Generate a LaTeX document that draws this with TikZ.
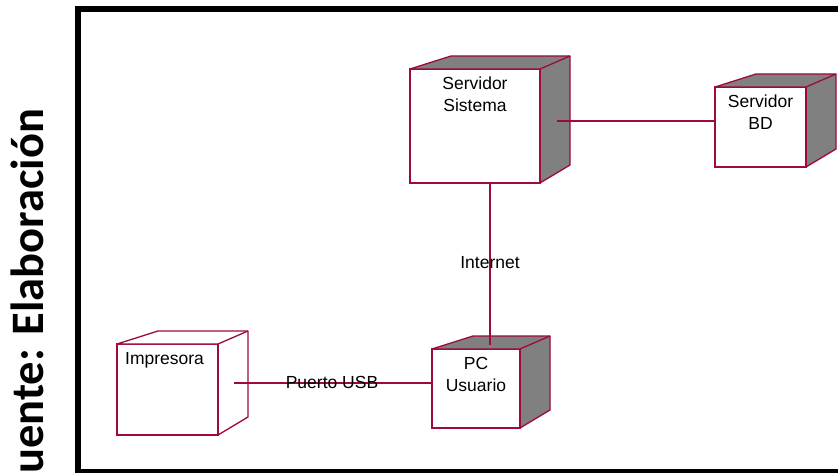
\documentclass[tikz,border=0pt]{standalone}
\usepackage{fontspec}
\setmainfont{Liberation Sans}
\newfontfamily\calibri{Carlito}
\usetikzlibrary{positioning}
\definecolor{borde}{HTML}{9E0B3A}
\definecolor{gris}{HTML}{808080}
\tikzset{
	cara/.style={draw=borde, line width=1.3pt, fill=white, inner sep=0pt, outer sep=0pt},
	enlace/.style={draw=borde, line width=1.3pt},
	etiqueta/.style={inner sep=0pt, align=center, font=\fontsize{17.5}{22}\selectfont},
}
\newcommand{\caja}[2]{%
	\filldraw[draw=borde, line width=1.3pt, fill=#2, line join=round] (#1.north west) -- ++(41,-13) -- ([shift={(30,-13)}]#1.north east) -- ([shift={(30,-18)}]#1.south east) -- (#1.south east) -- (#1.north east) -- cycle;
	\draw[borde, line width=1.3pt] (#1.north east) -- ++(30,-13);
	\draw[borde, line width=2.2pt] (#1.north east) -- (#1.south east);}
\begin{document}
\begin{tikzpicture}[x=1pt, y=-1pt]
					\useasboundingbox (0,0) rectangle (838,473);
					\clip (0,0) rectangle (838,473);
					\draw [line width=6pt] (78,9) -- (845,9);
					\draw [line width=6pt] (78,6) -- (78,480);
					\draw [line width=5pt] (78,471.5) -- (845,471.5);
					\node [rotate=90, anchor=base west, inner sep=0pt, font=\calibri\bfseries\fontsize{46.5}{56}\selectfont] (fuente) at (43,474) {uente: Elaboración};
					\node [cara, minimum width=130pt, minimum height=114pt] (sist) at (475,126) {};
					\node [cara, minimum width=91pt, minimum height=80pt] (bd) at (760.5,127) {};
					\node [cara, minimum width=101pt, minimum height=91pt] (imp) at (167.5,389.5) {};
					\node [cara, minimum width=88pt, minimum height=79pt] (pc) at (476,388.5) {};
					\caja{sist}{gris}
					\caja{bd}{gris}
					\caja{imp}{white}
					\caja{pc}{gris}
					\node [etiqueta, below=8pt of sist.north] (sistL) {Servidor\\Sistema};
					\node [etiqueta, below=8pt of bd.north] (bdL) {Servidor\\BD};
					\node [etiqueta, below right=8pt and 8pt of imp.north west] (impL) {Impresora};
					\node [etiqueta, below=8pt of pc.north] (pcL) {PC\\Usuario};
					\coordinate (sistE) at (557,121);
					\coordinate (pcN) at (490,345);
					\coordinate (impE) at (234,383);
					\draw [enlace] (sistE) -- (sistE -| bd.west);
					\draw [enlace] (pcN |- sist.south) -- (pcN);
					\draw [enlace] (impE) -- (impE -| pc.west);
					\node [etiqueta] (internet) at (490,263) {Internet};
					\node [etiqueta] (usb) at (332,382) {Puerto USB};
				\end{tikzpicture}
\end{document}
